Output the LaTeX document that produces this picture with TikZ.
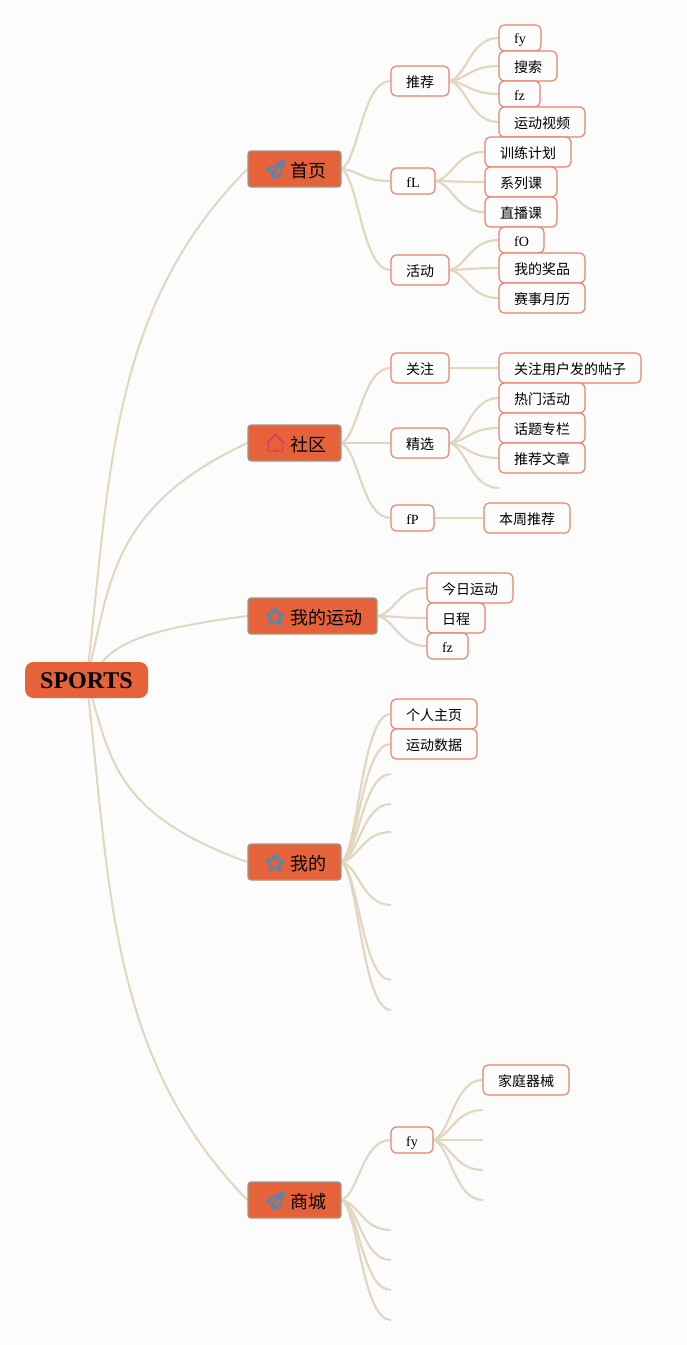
\documentclass[tikz,border=0pt]{standalone}
\usepackage{fontspec}
\setmainfont{Liberation Serif}
\newfontfamily\cjkfont{Noto Sans CJK SC}
\usetikzlibrary{calc,backgrounds}
\definecolor{pagebg}{HTML}{FCFCFC}
\definecolor{boxorange}{HTML}{E5623A}
\definecolor{mainedge}{HTML}{A09A82}
\definecolor{leafedge}{HTML}{E9826C}
\definecolor{linkcol}{HTML}{E2D6BF}
\definecolor{iconblue}{HTML}{5B86AB}
\definecolor{iconred}{HTML}{DF3F55}
\tikzset{
  rootbox/.style={fill=boxorange,rounded corners=6.5pt,inner sep=0pt,font=\fontsize{18pt}{20pt}\selectfont\bfseries,execute at begin node={\def\boxh{12pt}}},
  mainbox/.style={fill=boxorange,draw=mainedge,line width=0.9pt,rounded corners=2.2pt,inner sep=0pt,font=\cjkfont\fontsize{13.5pt}{16pt}\selectfont,execute at begin node={\def\boxh{12.2pt}}},
  leafbox/.style={fill=pagebg,draw=leafedge,line width=0.85pt,rounded corners=3.8pt,inner sep=0pt,font=\cjkfont\fontsize{10.5pt}{12pt}\selectfont,execute at begin node={\def\boxh{9.8pt}}},
  latinleaf/.style={fill=pagebg,draw=leafedge,line width=0.85pt,rounded corners=3.8pt,inner sep=0pt,font=\fontsize{10.5pt}{12pt}\selectfont,execute at begin node={\def\boxh{9pt}}},
  mainlink/.style={draw=linkcol,line width=1.5pt},
  sublink/.style={draw=linkcol,line width=1.6pt},
  iconline/.style={line width=1.7pt,line join=round,fill=none},
  planeicon/.pic={
    \draw[iconline,draw=iconblue] (9,-9)--(-8,-0.5)--(-2.5,3)--cycle;
    \draw[iconline,draw=iconblue] (9,-9)--(4,7.5)--(-2.5,3);
    \draw[iconline,draw=iconblue] (-2.5,3)--(-2.5,8)--(1,5.5);
  },
  staricon/.pic={
    \draw[iconline,draw=iconblue,line width=2pt]
      (270:8.6)--(306:4.6)--(342:8.6)--(18:4.6)--(54:8.6)--(90:4.6)--(126:8.6)--(162:4.6)--(198:8.6)--(234:4.6)--cycle;
  },
  houseicon/.pic={
    \draw[iconline,draw=iconred,line width=1.4pt] (-8.5,0)--(0,-8.5)--(8.5,0);
    \draw[iconline,draw=iconred,line width=1.4pt] (-7,-1.5)--(-7,8.5)--(7,8.5)--(7,-1.5);
    \fill[iconred] (-2.5,8.5)--(-2.5,4.5) arc[start angle=180,end angle=0,radius=2.5]--(2.5,8.5)--cycle;
  }
}
\newcommand\placebox[7][leafbox]{%
  \node[#1,minimum width={(#5-#3)*0.75pt},minimum height={(#6-#4)*0.75pt}] (#2) at ({(#3+#5)/2},{(#4+#6)/2}) {\raisebox{0pt}[\boxh][0pt]{#7}};}
\newcommand\linkS[2]{%
  \draw[sublink] (#1) let \p1=(#1),\p2=(#2) in .. controls ({\x1+0.35*(\x2-\x1)},{\y1+0.1*(\y2-\y1)}) and ({\x1+0.42*(\x2-\x1)},\y2) .. (\p2);}
\newcommand\linkM[2]{%
  \draw[mainlink] (#1) let \p1=(#1),\p2=(#2) in .. controls ({\x1+0.149*(\x2-\x1)},{\y1+0.392*(\y2-\y1)}) and ({\x1+0.13*(\x2-\x1)},{\y1+0.725*(\y2-\y1)}) .. (\p2);}
\newcommand\mainlabel[1]{\hspace*{20.25pt}#1}
\begin{document}
\begin{tikzpicture}[x=0.75pt,y=-0.75pt]
\useasboundingbox (0,0) rectangle (686,1345);
% root and main topics
\placebox[rootbox]{root}{25}{662}{148}{698}{SPORTS}
\placebox[mainbox]{home}{248}{151}{341}{187}{\mainlabel{首页}}
\placebox[mainbox]{comm}{248}{425}{341}{461}{\mainlabel{社区}}
\placebox[mainbox]{sport}{248}{598}{377}{634}{\mainlabel{我的运动}}
\placebox[mainbox]{mine}{248}{844}{341}{880}{\mainlabel{我的}}
\placebox[mainbox]{shop}{248}{1182}{341}{1218}{\mainlabel{商城}}
\pic at (275,170) {planeicon};
\pic at (275.5,443) {houseicon};
\pic at (275,617) {staricon};
\pic at (275,863) {staricon};
\pic at (275,1201) {planeicon};
% home branch
\placebox{tuijian}{391}{66}{449}{96}{推荐}
\placebox[latinleaf]{fL}{391}{168}{435}{194}{fL}
\placebox{huodong}{391}{255}{449}{285}{活动}
\placebox[latinleaf]{fya}{499}{25}{541}{51}{fy}
\placebox{sousuo}{499}{51}{557}{81}{搜索}
\placebox[latinleaf]{fza}{499}{81}{540}{107}{fz}
\placebox{yundong}{499}{107}{585}{137}{运动视频}
\placebox{xunlian}{485}{137}{571}{167}{训练计划}
\placebox{xilie}{485}{167}{557}{197}{系列课}
\placebox{zhibo}{485}{197}{557}{227}{直播课}
\placebox[latinleaf]{fO}{499}{227}{544}{253}{fO}
\placebox{jiangpin}{499}{253}{585}{283}{我的奖品}
\placebox{saishi}{499}{283}{585}{313}{赛事月历}
% community branch
\placebox{guanzhu}{391}{353}{449}{383}{关注}
\placebox{jingxuan}{391}{428}{449}{458}{精选}
\placebox[latinleaf]{fP}{391}{505}{434}{531}{fP}
\placebox{gzyh}{499}{353}{641}{383}{关注用户发的帖子}
\placebox{remen}{499}{383}{585}{413}{热门活动}
\placebox{huati}{499}{413}{585}{443}{话题专栏}
\placebox{wenzhang}{499}{443}{585}{473}{推荐文章}
\placebox{benzhou}{484}{503}{570}{533}{本周推荐}
\coordinate (jxend) at (499,488);
% my sport branch
\placebox{jinri}{427}{573}{513}{603}{今日运动}
\placebox{richeng}{427}{603}{485}{633}{日程}
\placebox[latinleaf]{fzb}{427}{633}{468}{659}{fz}
% mine branch
\placebox{geren}{391}{699}{477}{729}{个人主页}
\placebox{shuju}{391}{729}{477}{759}{运动数据}
\coordinate (ma) at (391,774);
\coordinate (mb) at (391,804);
\coordinate (mc) at (391,832);
\coordinate (md) at (391,905);
\coordinate (me) at (391,980);
\coordinate (mf) at (391,1010);
% shop branch
\placebox[latinleaf]{fyb}{391}{1127}{433}{1153}{fy}
\placebox{jiating}{483}{1065}{569}{1095}{家庭器械}
\coordinate (fa) at (483,1110);
\coordinate (fb) at (483,1140);
\coordinate (fc) at (483,1170);
\coordinate (fd) at (483,1200);
\coordinate (sa) at (391,1230);
\coordinate (sb) at (391,1260);
\coordinate (sc) at (391,1290);
\coordinate (sd) at (391,1320);
\begin{scope}[on background layer]
\fill[pagebg] (0,0) rectangle (686,1345);
\linkM{root.center}{home.west}
\linkM{root.center}{comm.west}
\linkM{root.center}{sport.west}
\linkM{root.center}{mine.west}
\linkM{root.center}{shop.west}
\linkS{home.east}{tuijian.west}
\linkS{home.east}{fL.west}
\linkS{home.east}{huodong.west}
\linkS{tuijian.east}{fya.west}
\linkS{tuijian.east}{sousuo.west}
\linkS{tuijian.east}{fza.west}
\linkS{tuijian.east}{yundong.west}
\linkS{fL.east}{xunlian.west}
\linkS{fL.east}{xilie.west}
\linkS{fL.east}{zhibo.west}
\linkS{huodong.east}{fO.west}
\linkS{huodong.east}{jiangpin.west}
\linkS{huodong.east}{saishi.west}
\linkS{comm.east}{guanzhu.west}
\linkS{comm.east}{jingxuan.west}
\linkS{comm.east}{fP.west}
\linkS{guanzhu.east}{gzyh.west}
\linkS{jingxuan.east}{remen.west}
\linkS{jingxuan.east}{huati.west}
\linkS{jingxuan.east}{wenzhang.west}
\linkS{jingxuan.east}{jxend}
\linkS{fP.east}{benzhou.west}
\linkS{sport.east}{jinri.west}
\linkS{sport.east}{richeng.west}
\linkS{sport.east}{fzb.west}
\linkS{mine.east}{geren.west}
\linkS{mine.east}{shuju.west}
\linkS{mine.east}{ma}
\linkS{mine.east}{mb}
\linkS{mine.east}{mc}
\linkS{mine.east}{md}
\linkS{mine.east}{me}
\linkS{mine.east}{mf}
\linkS{shop.east}{fyb.west}
\linkS{shop.east}{sa}
\linkS{shop.east}{sb}
\linkS{shop.east}{sc}
\linkS{shop.east}{sd}
\linkS{fyb.east}{jiating.west}
\linkS{fyb.east}{fa}
\linkS{fyb.east}{fb}
\linkS{fyb.east}{fc}
\linkS{fyb.east}{fd}
\end{scope}
\end{tikzpicture}
\end{document}
